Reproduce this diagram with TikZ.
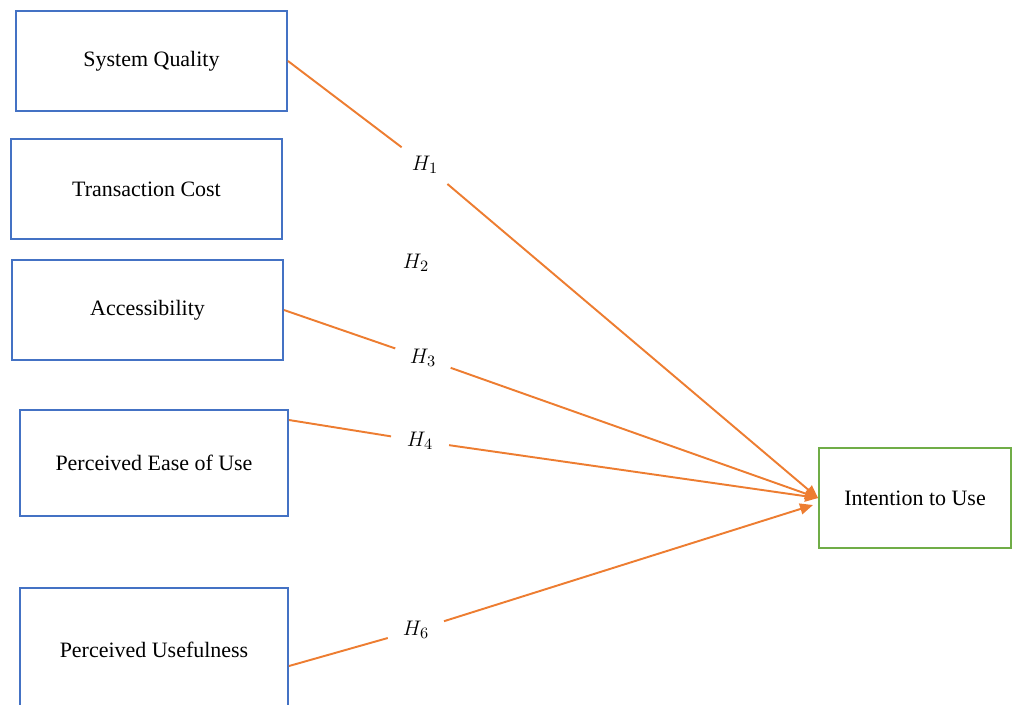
\documentclass[tikz,border=0pt]{standalone}
\usepackage{amsmath, amssymb}
\usepackage{xcolor}
\usepackage{fontspec}
\setmainfont{Liberation Serif}
\usetikzlibrary{shapes,arrows.meta,positioning}

\definecolor{boxblue}{HTML}{4472C4}
\definecolor{linkorange}{HTML}{ED7D31}
\definecolor{boxgreen}{HTML}{70AD47}

\begin{document}
\begin{tikzpicture}[
    x=0.02cm, y=-0.02cm,
    every node/.style={font=\fontsize{12.5}{15}\selectfont},
    factor/.style={rectangle, draw=boxblue, line width=1.1pt, minimum width=5.42cm, minimum height=2cm, fill=white},
    outcome/.style={rectangle, draw=boxgreen, line width=1.1pt, minimum width=3.84cm, minimum height=2cm, fill=white},
    hyp/.style={circle, inner sep=0pt, minimum size=1.16cm},
    link/.style={draw=linkorange, line width=1.1pt},
    arrow/.style={link, -{Triangle[length=0.26cm, width=0.22cm]}}
]
    \useasboundingbox (0,0) rectangle (1013,704);

    % Factors
    \node[factor] (sq) at (151.5,61) {System Quality};
    \node[factor] (tc) at (146.5,189) {Transaction Cost};
    \node[factor] (acc) at (147.5,310) {Accessibility};
    \node[factor, minimum width=5.36cm, minimum height=2.12cm] (peou) at (154,463) {Perceived Ease of Use};
    \node[factor, minimum width=5.36cm, minimum height=2.48cm] (pu) at (154,650) {Perceived Usefulness};

    % Outcome
    \node[outcome] (itu) at (915,498) {Intention to Use};

    % Hypotheses
    \node[hyp] (h1) at (425,165) {$H_1$};
    \node[hyp] (h2) at (416,263) {$H_2$};
    \node[hyp] (h3) at (423,358) {$H_3$};
    \node[hyp] (h4) at (420,441) {$H_4$};
    \node[hyp] (h6) at (416,630) {$H_6$};

    \coordinate (peou out) at (289,420);
    \coordinate (pu out) at (289,666);
    \coordinate (itu in) at (813,505);

    % Arrows
    \draw[link] (sq.east) -- (h1);
    \draw[arrow] (h1) -- (itu.west);
    \draw[link] (acc.east) -- (h3);
    \draw[arrow] (h3) -- (itu.west);
    \draw[link] (peou out) -- (h4);
    \draw[arrow] (h4) -- (itu.west);
    \draw[link] (pu out) -- (h6);
    \draw[arrow] (h6) -- (itu in);

\end{tikzpicture}
\end{document}
